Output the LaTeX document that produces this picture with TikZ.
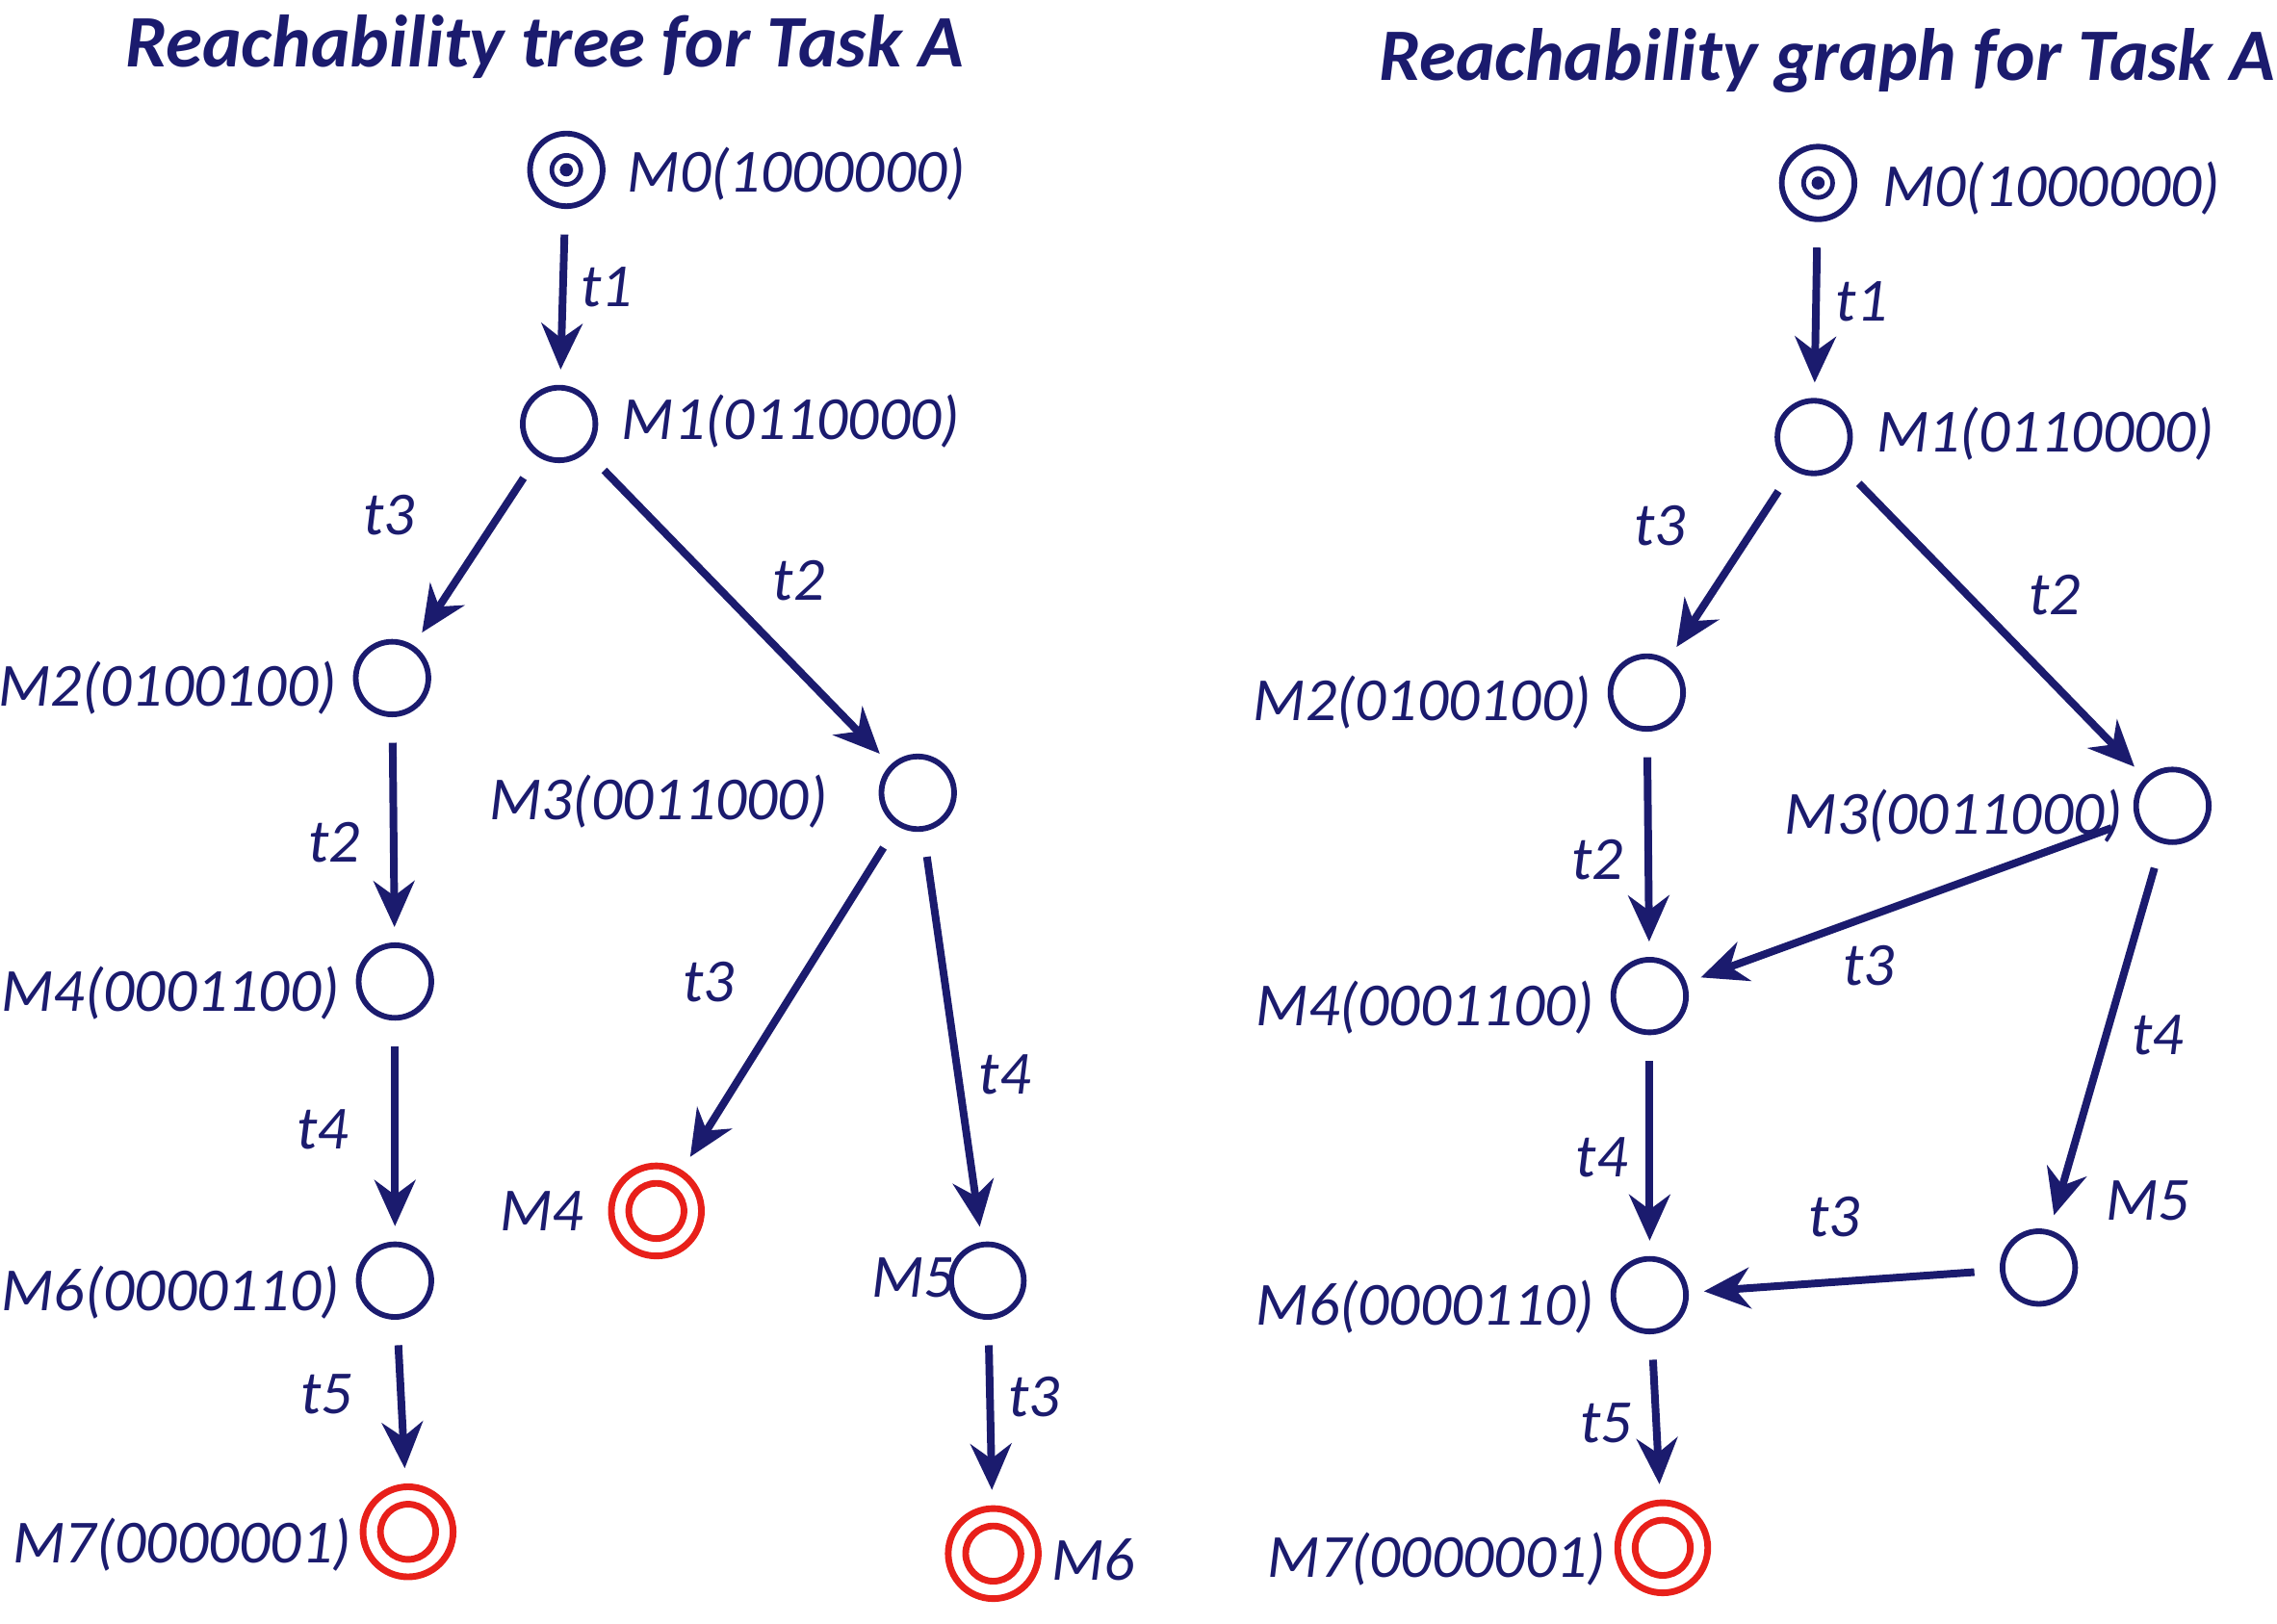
\documentclass[tikz,border=0pt]{standalone}
\usepackage{fontspec}
\setmainfont{Carlito}
\usetikzlibrary{arrows.meta}
\definecolor{navy}{HTML}{1B1B6E}
\definecolor{rd}{HTML}{E8201A}
\begin{document}
\begin{tikzpicture}[x=0.01cm,y=-0.01cm,
  st/.style={circle,draw=navy,line width=1.1pt,minimum size=0.5cm,inner sep=0pt},
  init/.style={st,path picture={\fill[navy] (path picture bounding box.center) circle (0.045cm);
     \draw[navy,line width=0.9pt] (path picture bounding box.center) circle (0.1cm);}},
  fin/.style={circle,draw=rd,line width=1.3pt,minimum size=0.62cm,inner sep=0pt,
     path picture={\draw[rd,line width=1.3pt] (path picture bounding box.center) circle (0.19cm);}},
  lab/.style={text=navy,font=\itshape\fontsize{12}{14}\selectfont,inner sep=1pt},
  ttl/.style={text=navy,font=\bfseries\itshape\fontsize{14.5}{16}\selectfont},
  ar/.style={-{Stealth[length=9pt,width=8pt]},draw=navy,line width=1.5pt,shorten <=5pt,shorten >=3pt}]
\useasboundingbox (0,0) rectangle (1568,1118);
\node[ttl] at (375,32) {Reachability tree for Task A};
\node[ttl] at (1258,42) {Reachability graph for Task A};
% left tree
\node[init] (a0) at (390,117) {};
\node[st] (a1) at (385,292) {};
\node[st] (a2) at (270,467) {};
\node[st] (a3) at (632,546) {};
\node[st] (a4) at (272,676) {};
\node[fin] (a4r) at (452,834) {};
\node[st] (a6) at (272,882) {};
\node[st] (a5) at (680,882) {};
\node[fin] (a7) at (281,1055) {};
\node[fin] (a6r) at (684,1070) {};
\node[lab,anchor=west] at (428,120) {M0(1000000)};
\node[lab,anchor=west] at (424,290) {M1(0110000)};
\node[lab,anchor=east] at (236,474) {M2(0100100)};
\node[lab,anchor=east] at (574,552) {M3(0011000)};
\node[lab,anchor=east] at (238,684) {M4(0001100)};
\node[lab,anchor=east] at (406,834) {M4};
\node[lab,anchor=east] at (238,890) {M6(0000110)};
\node[lab,anchor=east] at (246,1064) {M7(0000001)};
\node[lab,anchor=west] at (720,1074) {M6};
\begin{scope}
\clip (590,850) rectangle (655,920);
\node[lab,anchor=west] at (596,880) {M5};
\end{scope}
\draw[ar] (a0) -- (a1);
\draw[ar] (a1) -- (a2);
\draw[ar] (a1) -- (a3);
\draw[ar] (a2) -- (a4);
\draw[ar] (a3) -- (a4r);
\draw[ar] (a3) -- (a5);
\draw[ar] (a4) -- (a6);
\draw[ar] (a6) -- (a7);
\draw[ar] (a5) -- (a6r);
\node[lab] at (418,198) {t1};
\node[lab] at (268,355) {t3};
\node[lab] at (550,400) {t2};
\node[lab] at (230,580) {t2};
\node[lab] at (488,676) {t3};
\node[lab] at (692,740) {t4};
\node[lab] at (222,778) {t4};
\node[lab] at (225,960) {t5};
\node[lab] at (712,962) {t3};
% right graph
\node[init] (b0) at (1252,126) {};
\node[st] (b1) at (1249,301) {};
\node[st] (b2) at (1134,477) {};
\node[st] (b3) at (1496,555) {};
\node[st] (b4) at (1136,686) {};
\node[st] (b5) at (1404,873) {};
\node[st] (b6) at (1136,892) {};
\node[fin] (b7) at (1145,1066) {};
\node[lab,anchor=west] at (1292,130) {M0(1000000)};
\node[lab,anchor=west] at (1288,299) {M1(0110000)};
\node[lab,anchor=east] at (1100,484) {M2(0100100)};
\node[lab,anchor=east] at (1466,562) {M3(0011000)};
\node[lab,anchor=east] at (1102,694) {M4(0001100)};
\node[lab,anchor=west] at (1446,827) {M5};
\node[lab,anchor=east] at (1102,900) {M6(0000110)};
\node[lab,anchor=east] at (1110,1074) {M7(0000001)};
\draw[ar] (b0) -- (b1);
\draw[ar] (b1) -- (b2);
\draw[ar] (b1) -- (b3);
\draw[ar] (b2) -- (b4);
\draw[ar] (b3) -- (b4);
\draw[ar] (b3) -- (b5);
\draw[ar] (b4) -- (b6);
\draw[ar] (b5) -- (b6);
\draw[ar] (b6) -- (b7);
\node[lab] at (1282,208) {t1};
\node[lab] at (1143,362) {t3};
\node[lab] at (1415,410) {t2};
\node[lab] at (1100,592) {t2};
\node[lab] at (1287,665) {t3};
\node[lab] at (1486,713) {t4};
\node[lab] at (1103,797) {t4};
\node[lab] at (1263,838) {t3};
\node[lab] at (1106,980) {t5};
\end{tikzpicture}
\end{document}
